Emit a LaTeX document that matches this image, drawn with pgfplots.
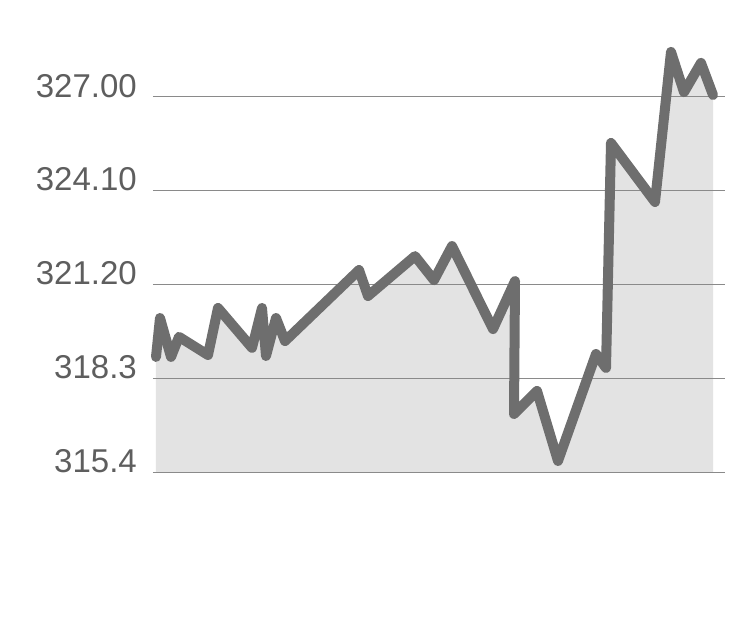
\documentclass[border=0pt]{standalone}
\usepackage{fontspec}
\setmainfont{Liberation Sans}
\usepackage{pgfplots}
\usepackage{pgfplotstable}
\pgfplotsset{compat=1.18}
\definecolor{linegray}{HTML}{6E6E6E}
\definecolor{areagray}{HTML}{E3E3E3}
\definecolor{gridgray}{HTML}{8A8A8A}
\definecolor{labelgray}{HTML}{5E5E5E}
\pgfplotstableread{
x y
156 318.95
160 320.15
171 318.95
179 319.57
208 319.01
218 320.46
252 319.23
262 320.46
266 318.98
276 320.15
285 319.44
359 321.63
368 320.83
415 322.06
434 321.32
452 322.37
493 319.81
515 321.29
514 317.19
537 317.90
558 315.74
596 319.04
606 318.61
611 325.55
655 323.73
671 328.36
684 327.12
701 328.02
713 327.03
}\datatable
\begin{document}
\begin{tikzpicture}[x=1pt,y=1pt]
\begin{axis}[
  set layers=standard,
  scale only axis, width=572pt, height=432pt,
  xmin=153, xmax=725, ymin=315.4, ymax=328.728,
  axis line style={draw=none},
  xtick=\empty,
  major tick length=0pt,
  ytick={315.4,318.3,321.2,324.1,327.0},
  yticklabels={315.4,318.3,321.20,324.10,327.00},
  ymajorgrids, grid style={gridgray, line width=0.9pt},
  yticklabel style={anchor=base east, inner sep=0pt, xshift=-16pt, yshift=-1pt, font=\fontsize{33}{33}\selectfont, text=labelgray},
  clip=false,
]
\addplot[on layer=axis background, fill=areagray, draw=none] table[x=x,y=y] {\datatable} |- (axis cs:156,315.4) -- cycle;
\addplot[linegray, line width=10pt, line join=round, line cap=round] table[x=x,y=y] {\datatable};
\end{axis}
\pgfresetboundingbox
\path (-153,-145) rectangle (586,472);
\end{tikzpicture}
\end{document}
